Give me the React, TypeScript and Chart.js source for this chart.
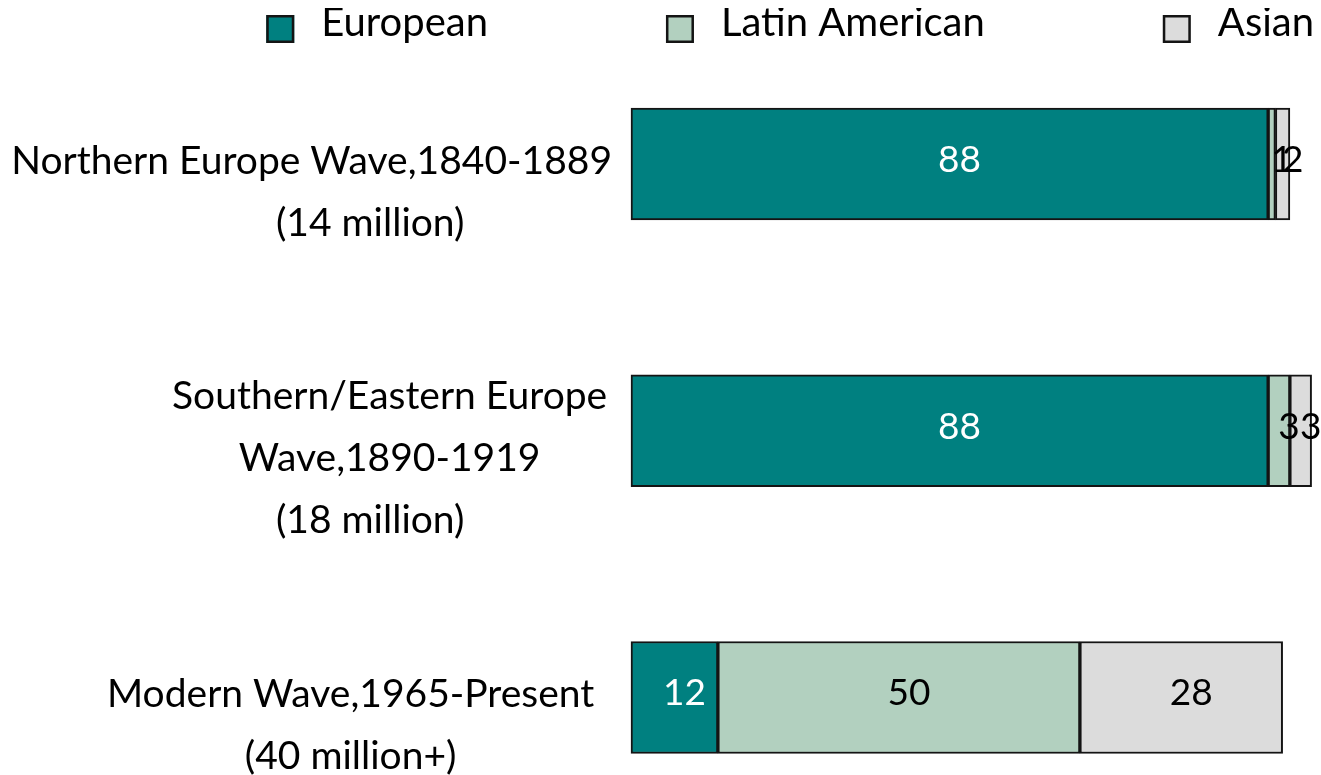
import React, { useEffect, useRef } from "react";
import { Chart, registerables } from "chart.js";

Chart.register(...registerables);

// ---- data ----
const categories: string[][] = [
  ["Northern Europe Wave,1840-1889", "(14 million)"],
  ["Southern/Eastern Europe", "Wave,1890-1919", "(18 million)"],
  ["Modern Wave,1965-Present", "(40 million+)"],
];
const seriesNames: string[] = ["European", "Latin American", "Asian"];
const european: number[] = [88, 88, 12];
const latinAmerican: number[] = [1, 3, 50];
const asian: number[] = [2, 3, 28];
const xMax = 94;

// ---- styles ----
const fillColors = ["#008080", "#b2d0bf", "#dcdcdc"];
const valueColors = ["#ffffff", "#000000", "#000000"];
const borderColor = "#141414";
const FONT = "Lato, 'Open Sans', sans-serif";
// per-line indent (in en spaces) that reproduces the uneven centring of the original labels
const labelIndent: number[][] = [
  [0, 6],
  [8, 8, 6],
  [4, 4],
];

const valueLabels = {
  id: "valueLabels",
  afterDatasetsDraw(chart: any) {
    const ctx = chart.ctx;
    ctx.save();
    ctx.font = `37px ${FONT}`;
    ctx.textAlign = "center";
    ctx.textBaseline = "middle";
    chart.data.datasets.forEach((ds: any, i: number) => {
      const meta = chart.getDatasetMeta(i);
      meta.data.forEach((el: any, j: number) => {
        const p = el.getProps(["x", "y", "base"], true);
        ctx.fillStyle = valueColors[i];
        ctx.fillText(String(ds.data[j]), (p.x + p.base) / 2 + 10, p.y - 4);
      });
    });
    ctx.restore();
  },
};

const topLegend = {
  id: "topLegend",
  afterDraw(chart: any) {
    const ctx = chart.ctx;
    ctx.save();
    ctx.font = `40px ${FONT}`;
    const box = 28;
    const gapText = 27;
    const gapItem = 178;
    const rightX = 1306;
    const widths = chart.data.datasets.map((ds: any) => ctx.measureText(ds.label).width);
    const total =
      widths.reduce((a: number, w: number) => a + box + gapText + w, 0) +
      gapItem * (widths.length - 1);
    let x = rightX - total;
    chart.data.datasets.forEach((ds: any, i: number) => {
      ctx.fillStyle = ds.backgroundColor;
      ctx.fillRect(x, 7, box, box);
      ctx.lineWidth = 2.5;
      ctx.strokeStyle = borderColor;
      ctx.strokeRect(x + 1.25, 8.25, box - 2.5, box - 2.5);
      ctx.fillStyle = "#000000";
      ctx.textAlign = "left";
      ctx.textBaseline = "alphabetic";
      ctx.fillText(ds.label, x + box + gapText, 28);
      x += box + gapText + widths[i] + gapItem;
    });
    ctx.restore();
  },
};

export default function App() {
  const canvasRef = useRef<HTMLCanvasElement | null>(null);

  useEffect(() => {
    document.documentElement.style.overflow = "hidden";
    document.body.style.overflow = "hidden";
    let chart: Chart | null = null;
    let cancelled = false;
    const build = () => {
      if (cancelled || !canvasRef.current) return;
      const seriesValues = [european, latinAmerican, asian];
      chart = new Chart(canvasRef.current, {
        type: "bar",
        data: {
          labels: categories,
          datasets: seriesNames.map((name, i) => ({
            label: name,
            data: seriesValues[i],
            backgroundColor: fillColors[i],
            borderColor: borderColor,
            borderWidth: 2,
            borderSkipped: false,
            barThickness: 112,
            clip: false,
          })),
        },
        options: {
          indexAxis: "y",
          responsive: false,
          animation: false,
          events: [],
          layout: { padding: { top: 156, bottom: 77.5, left: 0, right: 9.4 } },
          plugins: {
            legend: { display: false },
            tooltip: { enabled: false },
          },
          scales: {
            x: { stacked: true, min: 0, max: xMax, display: false },
            y: {
              stacked: true,
              offset: false,
              grid: { display: false, drawTicks: false },
              border: { display: false },
              ticks: {
                crossAlign: "center",
                padding: 19,
                labelOffset: 28,
                color: "#000000",
                font: { family: FONT, size: 39, lineHeight: 1.59 },
                callback: (_v: any, i: number) =>
                  categories[i].map((line, k) => "\u2002".repeat(labelIndent[i][k]) + line),
              },
              afterFit: (scale: any) => {
                scale.width = 623;
                scale.paddingTop = 0;
                scale.paddingBottom = 0;
              },
            },
          },
        },
        plugins: [valueLabels, topLegend],
      } as any);
    };
    const fonts = (document as any).fonts;
    if (fonts && fonts.load) {
      Promise.all([fonts.load("39px Lato"), fonts.load("40px Lato")])
        .catch(() => null)
        .then(build);
    } else {
      build();
    }
    return () => {
      cancelled = true;
      if (chart) chart.destroy();
    };
  }, []);

  return (
    <div style={{ position: "absolute", left: 8, top: 8, width: 1313, height: 767 }}>
      <canvas ref={canvasRef} width={1313} height={767} style={{ display: "block" }} />
    </div>
  );
}
